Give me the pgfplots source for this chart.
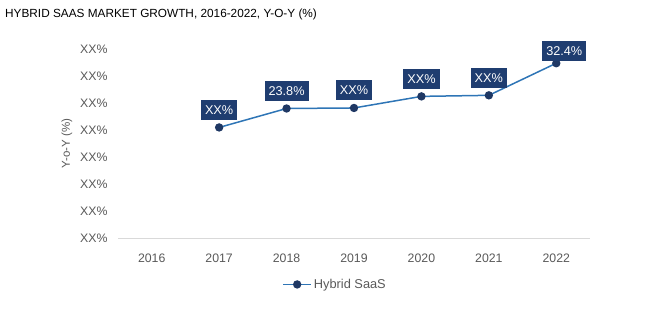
\documentclass[border=0pt]{standalone}
\usepackage{pgfplots}
\pgfplotsset{compat=1.18}
\usepackage{pgfplotstable}
\usepackage{fontspec}
\setmainfont{Liberation Sans}
\definecolor{linec}{RGB}{46,117,182}
\definecolor{markc}{RGB}{31,56,100}
\definecolor{boxc}{RGB}{31,61,112}
\definecolor{txtc}{RGB}{89,89,89}
\definecolor{axc}{RGB}{217,217,217}
\tikzset{lab/.style={fill=boxc, text=white, inner xsep=4pt, inner ysep=5.5pt,
    text height=9pt, text depth=0pt,
    font=\fontsize{12.7}{14}\selectfont, anchor=south}}
\pgfplotstableread{
x y lab
1 20.2 XX\%
2 23.8 23.8\%
3 23.9 XX\%
4 26.1 XX\%
5 26.3 XX\%
6 32.4 32.4\%
}\datatable
\pgfplotstableread{
x y lab
1 20.2 XX\%
2 23.8 23.8\%
3 23.9 XX\%
4 26.1 XX\%
5 26.3 XX\%
}\labtable
\pgfplotstableread{
x y lab
6 32.4 32.4\%
}\lastlab
\begin{document}
\begin{tikzpicture}[x=1pt,y=1pt]
\useasboundingbox (0,0) rectangle (659,327);
\node[anchor=west,font=\fontsize{11.8}{14}\selectfont,text=black,inner sep=0pt] at (5,313) {HYBRID SAAS MARKET GROWTH, 2016-2022, Y-O-Y (\%)};
\begin{axis}[
  at={(118pt,89pt)}, anchor=south west,
  width=472pt, height=189pt, scale only axis,
  xmin=-0.5, xmax=6.5, ymin=-0.8, ymax=35.1,
  xtick={0,...,6},
  xticklabels={2016,2017,2018,2019,2020,2021,2022},
  ytick={-0.8,4.33,9.46,14.59,19.71,24.84,29.97,35.1},
  yticklabels={XX\%,XX\%,XX\%,XX\%,XX\%,XX\%,XX\%,XX\%},
  axis x line*=bottom, axis y line*=left,
  x axis line style={draw=axc, line width=0.8pt, -},
  y axis line style={draw=none},
  xtick style={draw=none}, ytick style={draw=none},
  ticklabel style={font=\fontsize{12.3}{14}\selectfont, text=txtc},
  xticklabel style={yshift=-12pt},
  yticklabel style={xshift=-7pt},
  ylabel={Y-o-Y (\%)},
  every axis y label/.style={at={(rel axis cs:0,0.5)}, xshift=-51pt, rotate=90, anchor=center,
    font=\fontsize{11.5}{13}\selectfont, text=txtc},
  clip=false,
  legend style={at={(0.46,-0.195)}, anchor=north, draw=none, fill=none,
    font=\fontsize{12.8}{14}\selectfont, text=txtc, legend columns=1},
  legend image code/.code={
    \draw[#1, mark=none] (0pt,0pt) -- (28pt,0pt);
    \draw[#1, only marks] plot coordinates {(14pt,0pt)};
  },
  legend cell align=left,
]
\addplot[linec, line width=1.5pt, mark=*, mark size=3.4pt,
  mark options={fill=markc, draw=markc}] table[x=x, y=y] {\datatable};
\addlegendentry{Hybrid SaaS}
\addplot[forget plot, draw=none, mark=none, nodes near coords, point meta=explicit symbolic,
  nodes near coords style={lab, yshift=7.5pt}] table[x=x, y=y, meta=lab] {\labtable};
\addplot[forget plot, draw=none, mark=none, nodes near coords, point meta=explicit symbolic,
  nodes near coords style={lab, yshift=2pt, xshift=8pt}] table[x=x, y=y, meta=lab] {\lastlab};
\end{axis}
\end{tikzpicture}
\end{document}
